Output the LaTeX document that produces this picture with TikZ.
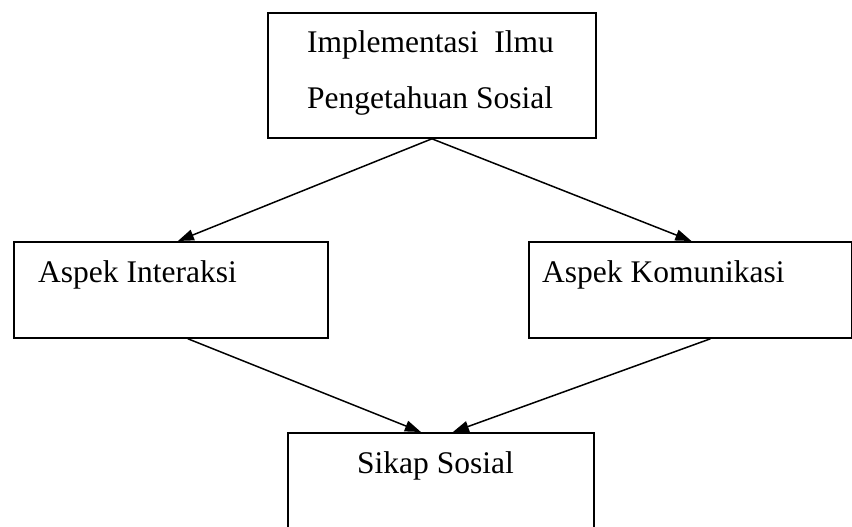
\documentclass[tikz,border=0pt]{standalone}
\usepackage{fontspec}
\setmainfont{Liberation Serif}
\usetikzlibrary{arrows.meta}
\begin{document}
\begin{tikzpicture}[x=1pt,y=-1pt,
  box/.style={draw,line width=1.8pt,rectangle,inner sep=0pt,anchor=north west},
  lbl/.style={anchor=base west,inner sep=0pt,font=\fontsize{31.5}{38}\selectfont},
  arr/.style={line width=1.5pt,-{Triangle[length=16pt,width=11pt]}}]
\useasboundingbox (0,0) rectangle (852,527);
\clip (0,0) rectangle (852,527);
\node[box,minimum width=328pt,minimum height=125pt] (top) at (267,12) {};
\node[box,minimum width=314pt,minimum height=96pt] (left) at (13,241) {};
\node[box,minimum width=323pt,minimum height=96pt] (right) at (528,241) {};
\node[box,minimum width=306pt,minimum height=110pt] (bot) at (287,432) {};
\node[lbl] (t1) at (307,53) {Implementasi\ \ Ilmu};
\node[lbl] (t2) at (307,108) {Pengetahuan Sosial};
\node[lbl] (t3) at (38,282) {Aspek Interaksi};
\node[lbl] (t4) at (542,282) {Aspek Komunikasi};
\node[lbl] (t5) at (357,473) {Sikap Sosial};
\draw[arr] (top.south) -- ([xshift=7pt]left.north);
\draw[arr] (top.south) -- ([xshift=1pt]right.north);
\draw[arr] ([xshift=17pt]left.south) -- ([xshift=-20pt]bot.north);
\draw[arr] ([xshift=20pt]right.south) -- ([xshift=12pt]bot.north);
\end{tikzpicture}
\end{document}
